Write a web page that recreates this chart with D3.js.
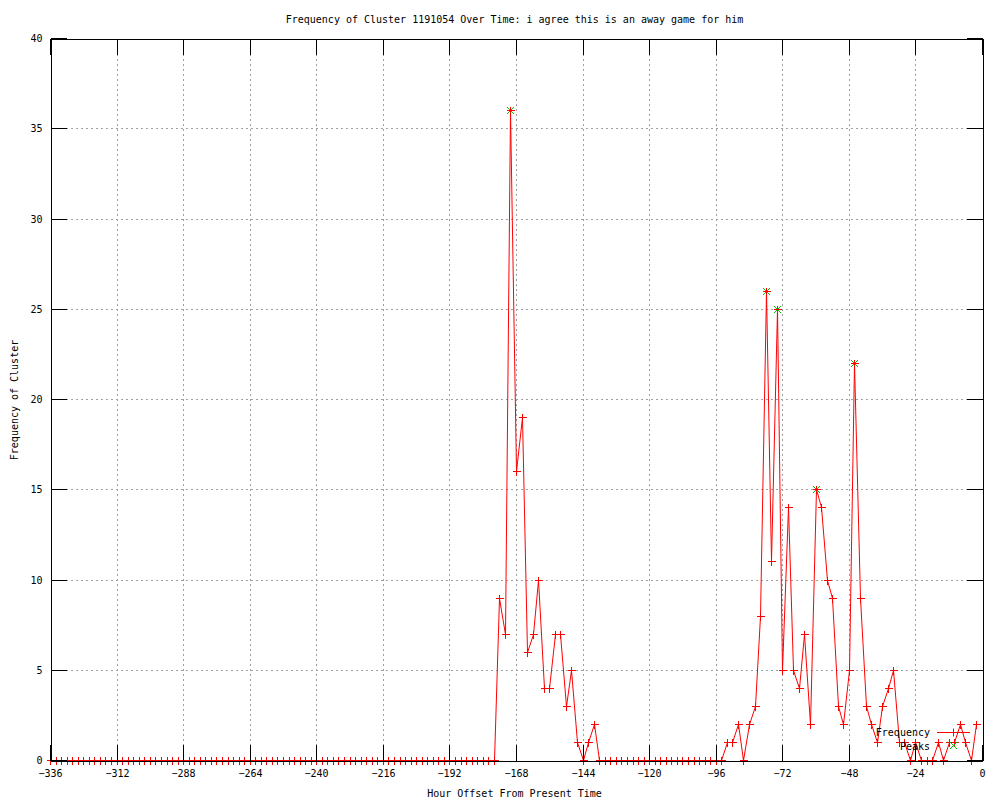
<!DOCTYPE html>
<html><head><meta charset="utf-8">
<script src="https://cdn.jsdelivr.net/npm/d3@7"></script>
<style>
body{margin:0;background:#fff}
text{font-family:"DejaVu Sans Mono","Liberation Mono",monospace;font-size:10px;fill:#000}
</style>
</head><body>
<svg id="chart" width="1000" height="800"></svg>
<script>
const chartTitle = "Frequency of Cluster 1191054 Over Time: i agree this is an away game for him";
const xLabel = "Hour Offset From Present Time";
const yLabel = "Frequency of Cluster";
const xTicks = [-336,-312,-288,-264,-240,-216,-192,-168,-144,-120,-96,-72,-48,-24,0];
const yTicks = [0,5,10,15,20,25,30,35,40];
const startHour = -336;
const stepHours = 2;
// frequency per 2-hour bin, from -336 to -2
const frequency = [
  0,0,0,0,0,0,0,0,0,0, 0,0,0,0,0,0,0,0,0,0,
  0,0,0,0,0,0,0,0,0,0, 0,0,0,0,0,0,0,0,0,0,
  0,0,0,0,0,0,0,0,0,0, 0,0,0,0,0,0,0,0,0,0,
  0,0,0,0,0,0,0,0,0,0, 0,0,0,0,0,0,0,0,0,0,
  0,
  9,7,36,16,19,6,7,10,4,4,7,7,3,5,1,0,1,2,
  0,0,0,0,0,0,0,0,0,0, 0,0,0,0,0,0,0,0,0,0, 0,0,0,
  1,1,2,0,2,3,8,26,11,25,5,14,5,4,7,2,15,14,10,9,3,2,5,22,9,3,2,1,3,4,5,1,1,0,1,0,0,0,1,0,1,1,2,1,0,2
];
const peakHours = [-170,-78,-74,-60,-46];
const peakValues = [36,26,25,15,22];

const hours = frequency.map((_, i) => startHour + i * stepHours);
const points = hours.map((h, i) => ({h, v: frequency[i]}));
const peaks = peakHours.map((h, i) => ({h, v: peakValues[i]}));

const L = 50, R = 982, T = 38, B = 760;
const svg = d3.select("#chart");
const g = svg.append("g").attr("transform", "translate(0.5,0.5)");
const x = d3.scaleLinear().domain([-336, 0]).range([L, R]);
const y = d3.scaleLinear().domain([0, 40]).range([B, T]);

// grid
g.append("g").selectAll("line").data(xTicks.filter(t => t > -336 && t < 0)).join("line")
  .attr("x1", d => Math.round(x(d))).attr("x2", d => Math.round(x(d)))
  .attr("y1", T).attr("y2", B)
  .attr("stroke", "#a0a0a0").attr("stroke-dasharray", "2,3").attr("shape-rendering", "crispEdges");
g.append("g").selectAll("line").data(yTicks.filter(t => t > 0 && t < 40)).join("line")
  .attr("y1", d => Math.round(y(d))).attr("y2", d => Math.round(y(d)))
  .attr("x1", L).attr("x2", R)
  .attr("stroke", "#a0a0a0").attr("stroke-dasharray", "2,3").attr("shape-rendering", "crispEdges");

const xr = d3.scaleLinear().domain([-336, 0]).range([L, R]).interpolate(d3.interpolateRound);
const yr = d3.scaleLinear().domain([0, 40]).range([B, T]).interpolate(d3.interpolateRound);

function styleAxis(sel){
  sel.attr("shape-rendering", "crispEdges");
  sel.selectAll("path, line").attr("stroke", "#000");
  sel.selectAll("text").style("font-family", '"DejaVu Sans Mono","Liberation Mono",monospace').style("font-size", "10px").attr("fill", "#000");
}
const offset = -0.5;
svg.append("g").attr("transform", `translate(${offset + 0.5},${B + 0.5})`)
  .call(d3.axisBottom(xr).tickValues(xTicks).tickSize(-16).tickSizeOuter(0).tickPadding(9).tickFormat(d3.format("d")))
  .call(styleAxis);
svg.append("g").attr("transform", `translate(${offset + 0.5},${T + 0.5})`)
  .call(d3.axisTop(xr).tickValues(xTicks).tickSize(-16).tickSizeOuter(0).tickFormat(""))
  .call(styleAxis);
svg.append("g").attr("transform", `translate(${L + 0.5},${offset + 0.5})`)
  .call(d3.axisLeft(yr).tickValues(yTicks).tickSize(-16).tickSizeOuter(0).tickPadding(8).tickFormat(d3.format("d")))
  .call(styleAxis);
svg.append("g").attr("transform", `translate(${R + 0.5},${offset + 0.5})`)
  .call(d3.axisRight(yr).tickValues(yTicks).tickSize(-16).tickSizeOuter(0).tickFormat(""))
  .call(styleAxis);

// peaks (green x)
const xs = 3.5;
const xMark = (cx, cy) => `M${cx - xs},${cy - xs}L${cx + xs},${cy + xs}M${cx - xs},${cy + xs}L${cx + xs},${cy - xs}`;
g.append("path")
  .attr("d", peaks.map(d => xMark(xr(d.h), yr(d.v))).join(""))
  .attr("stroke", "#00c000").attr("fill", "none");

// frequency line
g.append("path").datum(points)
  .attr("d", d3.line().x(d => xr(d.h)).y(d => yr(d.v)))
  .attr("stroke", "#ff0000").attr("fill", "none").attr("stroke-width", 1);
const ps = 4;
const plus = (cx, cy) => `M${cx - ps},${cy}H${cx + ps}M${cx},${cy - ps}V${cy + ps}`;
g.append("path")
  .attr("d", points.map(d => plus(xr(d.h), yr(d.v))).join(""))
  .attr("stroke", "#ff0000").attr("fill", "none").attr("shape-rendering", "crispEdges");

// titles
svg.append("text").attr("x", 514.5).attr("y", 19).attr("dy", "0.35em").attr("text-anchor", "middle").text(chartTitle);
svg.append("text").attr("x", 514.5).attr("y", 793).attr("dy", "0.35em").attr("text-anchor", "middle").text(xLabel);
svg.append("text").attr("transform", "translate(14,400) rotate(-90)").attr("dy", "0.35em").attr("text-anchor", "middle").text(yLabel);

// legend
const lg = svg.append("g");
lg.append("text").attr("x", 930).attr("y", 732).attr("dy", "0.35em").attr("text-anchor", "end").text("Frequency");
lg.append("line").attr("x1", 937).attr("x2", 970).attr("y1", 732.5).attr("y2", 732.5).attr("stroke", "#ff0000");
lg.append("path").attr("d", plus(953.5, 732.5)).attr("stroke", "#ff0000").attr("fill", "none");
lg.append("text").attr("x", 930).attr("y", 746).attr("dy", "0.35em").attr("text-anchor", "end").text("Peaks");
lg.append("path").attr("d", xMark(953.5, 745.5)).attr("stroke", "#00c000").attr("fill", "none");
</script>
</body></html>
